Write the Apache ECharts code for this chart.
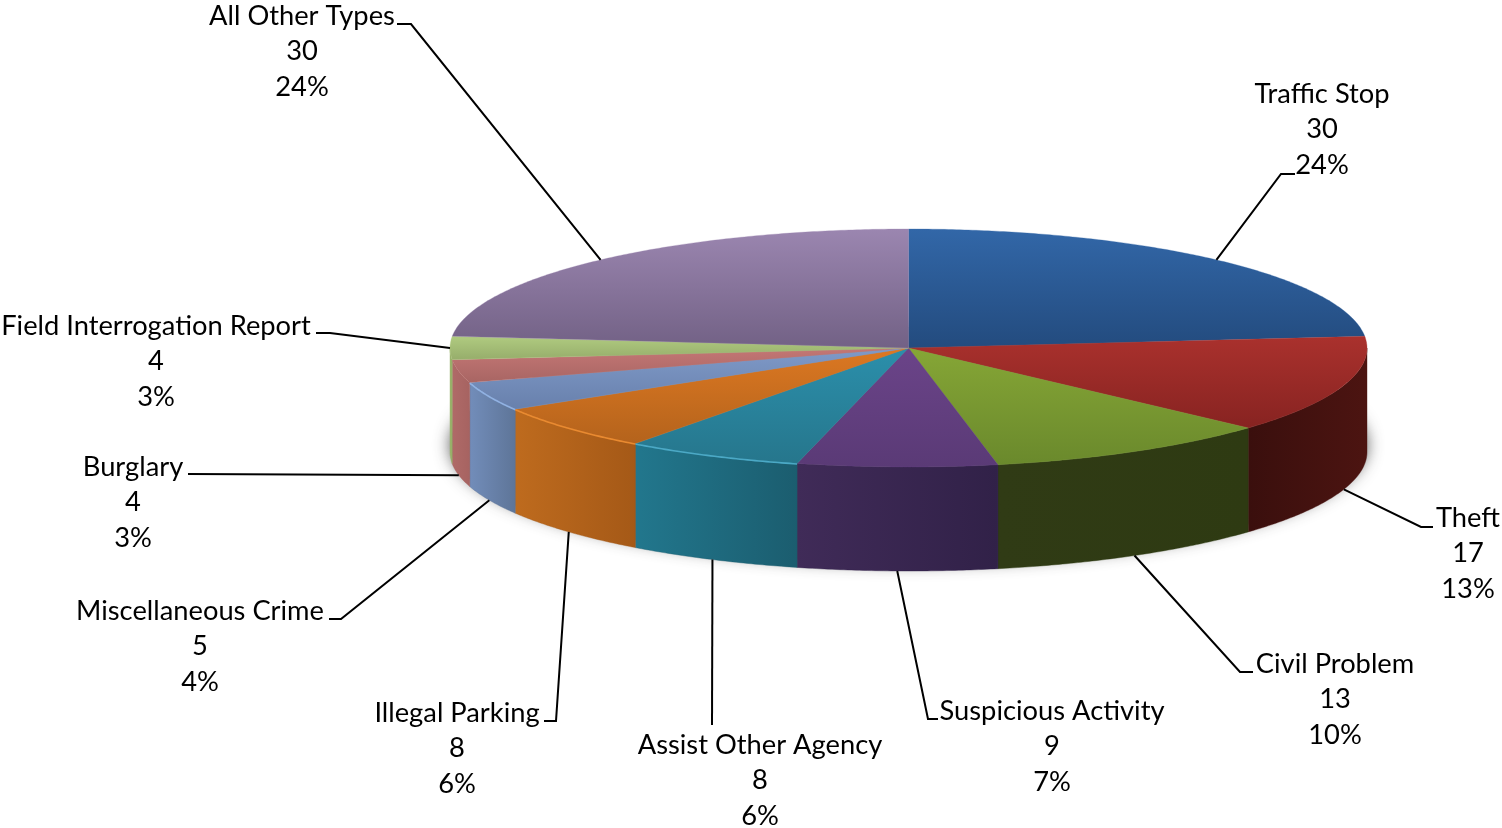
<!DOCTYPE html>
<html>
<head>
<meta charset="utf-8">
<style>html,body{margin:0;padding:0;background:#fff}#c{width:1502px;height:828px}</style>
<script src="https://cdn.jsdelivr.net/npm/echarts@6/dist/echarts.min.js"></script>
</head>
<body>
<div id="c"></div>
<script>
var categories = ['Traffic Stop','Theft','Civil Problem','Suspicious Activity','Assist Other Agency','Illegal Parking','Miscellaneous Crime','Burglary','Field Interrogation Report','All Other Types'];
var values = [30,17,13,9,8,8,5,4,4,30];
var percentLabels = ['24%','13%','10%','7%','6%','6%','4%','3%','3%','24%'];

var topColors = [['#3267A8','#234B7E'],['#AA312D','#872321'],['#86A636','#6A892C'],['#6B4489','#5A3A76'],['#2B8FAB','#26768C'],['#DC7822','#B4631C'],['#7F9AC8','#6880AC'],['#C47775','#A86563'],['#B0CB80','#96AD6B'],['#9B86B0','#726185']];
var wallColors = [['#24406A','#24406A'],['#3A0F0D','#4C1411'],['#303B15','#2E3A12'],['#402B58','#312148'],['#22778D','#1B5D6F'],['#BE6B1E','#A55917'],['#728DBA','#5E7598'],['#B06A68','#A66361'],['#9CB66C','#96AD68'],['#6E5E80','#6E5E80']];
var rimColors = [null,null,null,null,'#4BA9C6','#E98A30','#90B1E2',null,null,null];

var pieCenter = [908.5,348], pieRadius = [458.5,119], pieDepth = 104;
var labelLineHeight = 35.5;
var labelCenters = [[1322,94],[1468,518],[1335,664],[1052,711],[760,745],[457,713],[200,611],[133,467],[156,326],[302,16]];
var leaderElbows = [
  [[1281,174],[1295,174]],[[1421,527],[1433,527]],[[1240,672],[1253,672]],[[928,719],[938,719]],
  [[712,725]],[[556,721],[544,721]],[[341,619],[329,619]],[[188,474]],[[330,333],[316,333]],[[411,24],[397,24]]
];

var total = values.reduce(function(a,b){return a+b;},0);
function rimPoint(deg, dy){
  var a = deg*Math.PI/180;
  return [pieCenter[0]+pieRadius[0]*Math.sin(a), pieCenter[1]-pieRadius[1]*Math.cos(a)+(dy||0)];
}
function arc(from,to,dy){
  var pts=[], n=Math.max(2,Math.ceil(Math.abs(to-from)*2));
  for(var i=0;i<=n;i++){pts.push(rimPoint(from+(to-from)*i/n,dy));}
  return pts;
}
function grad(x2,y2,c){
  return new echarts.graphic.LinearGradient(0,0,x2,y2,[{offset:0,color:c[0]},{offset:1,color:c[1]}]);
}
function renderItem(params, api){
  var i = params.dataIndex, before = 0;
  for(var k=0;k<i;k++){before+=values[k];}
  var start = before/total*360, end = (before+api.value(0))/total*360, mid=(start+end)/2;
  var kids = [];
  if(i===0){
    var sh=[];
    for(var d=0;d<360;d+=2){
      var a=d*Math.PI/180;
      sh.push([pieCenter[0]+pieRadius[0]*Math.sin(a), pieCenter[1]+pieDepth-7-(pieRadius[1]-1)*Math.cos(a)]);
    }
    kids.push({type:'polygon',z2:0,shape:{points:sh},style:{fill:'#8c8c8c',shadowBlur:16,shadowColor:'rgba(60,60,60,0.85)'}});
  }
  var wa=Math.max(start,90), wb=Math.min(end,270);
  if(wb>wa){
    var upper=arc(wa,wb,0), lower=arc(wb,wa,pieDepth);
    kids.push({type:'polygon',z2:1,shape:{points:upper.concat(lower)},style:{fill:grad(1,0,wallColors[i]),stroke:wallColors[i][1],lineWidth:0.4}});
  }
  var top=[pieCenter].concat(arc(start,end,0));
  kids.push({type:'polygon',z2:2,shape:{points:top},style:{fill:grad(0,1,topColors[i]),stroke:topColors[i][0],lineWidth:0.3}});
  if(rimColors[i]){
    kids.push({type:'polyline',z2:3,shape:{points:arc(start,end,0.5)},style:{fill:null,stroke:rimColors[i],lineWidth:1.6}});
  }
  var front = mid>90 && mid<270;
  var anchor = rimPoint(mid, front?pieDepth:0);
  kids.push({type:'polyline',z2:4,shape:{points:[anchor].concat(leaderElbows[i])},style:{fill:null,stroke:'#000',lineWidth:2}});
  kids.push({type:'text',z2:5,style:{
    x:labelCenters[i][0], y:labelCenters[i][1]-labelLineHeight/2,
    text:categories[i]+'\n'+api.value(0)+'\n'+percentLabels[i],
    fontFamily:'Lato', fontSize:27.3, lineHeight:labelLineHeight,
    textAlign:'center', textVerticalAlign:'top', fill:'#000'
  }});
  return {type:'group',children:kids};
}
var chart = echarts.init(document.getElementById('c'),null,{renderer:'canvas'});
chart.setOption({
  animation:false,
  backgroundColor:'#ffffff',
  series:[{
    type:'custom',
    coordinateSystem:'none',
    renderItem:renderItem,
    silent:true,
    data:categories.map(function(n,i){return {name:n,value:values[i]};})
  }]
});
</script>
</body>
</html>
